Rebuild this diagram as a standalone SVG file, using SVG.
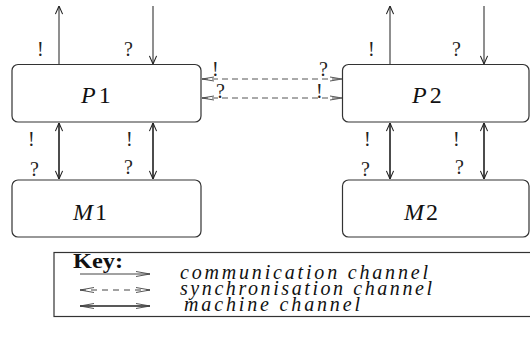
<svg xmlns="http://www.w3.org/2000/svg" width="530" height="345" viewBox="0 0 530 345">
  <defs>
    <!-- open arrowheads -->
    <marker id="head" viewBox="0 0 10 10" refX="10" refY="5" markerUnits="userSpaceOnUse" markerWidth="9" markerHeight="9" orient="auto-start-reverse">
      <path d="M1,1 L10,5 L1,9" fill="none" stroke="#222" stroke-width="1.2"/>
    </marker>
    <marker id="sync" viewBox="0 0 12 6" refX="12" refY="3" markerUnits="userSpaceOnUse" markerWidth="12" markerHeight="6" orient="auto-start-reverse">
      <path d="M0,1 L12,3 L0,5" fill="none" stroke="#444" stroke-width="0.9"/>
    </marker>
    <marker id="keyhead" viewBox="0 0 14 8" refX="14" refY="4" markerUnits="userSpaceOnUse" markerWidth="14" markerHeight="8" orient="auto-start-reverse">
      <path d="M0,1.5 L14,4 L0,6.5" fill="none" stroke="#444" stroke-width="0.9"/>
    </marker>
  </defs>
  <style>
    .box { fill: #fff; stroke: #333; stroke-width: 1.2; }
    .name { font-family: "Liberation Serif", "DejaVu Serif", serif; font-style: italic; font-size: 24px; fill: #111; }
    .mark { font-family: "Liberation Serif", "DejaVu Serif", serif; font-size: 20px; fill: #222; }
    .comm { stroke: #333; stroke-width: 1.1; fill: none; marker-end: url(#head); }
    .mach { stroke: #111; stroke-width: 1.5; fill: none; marker-start: url(#head); marker-end: url(#head); }
    .dash { stroke: #555; stroke-width: 1; fill: none; stroke-dasharray: 6 4; marker-start: url(#sync); marker-end: url(#sync); }
    .keytxt { font-family: "Liberation Serif", "DejaVu Serif", serif; font-style: italic; font-size: 20px; fill: #111; }
    .keyhd { font-family: "Liberation Serif", "DejaVu Serif", serif; font-weight: bold; font-size: 21px; fill: #111; }
  </style>

  <g id="P1">
    <rect class="box" x="12" y="64.5" width="189" height="57.5" rx="6"/>
    <text class="name" x="81" y="103">P<tspan dx="3" font-style="normal">1</tspan></text>
  </g>
  <g id="P2">
    <rect class="box" x="342.5" y="64.5" width="186.5" height="57.5" rx="6"/>
    <text class="name" x="412" y="103">P<tspan dx="3" font-style="normal">2</tspan></text>
  </g>
  <g id="M1">
    <rect class="box" x="12" y="180" width="189" height="57" rx="6"/>
    <text class="name" x="73" y="220">M<tspan dx="2" font-style="normal">1</tspan></text>
  </g>
  <g id="M2">
    <rect class="box" x="342.5" y="180" width="186.5" height="57" rx="6"/>
    <text class="name" x="404" y="220">M<tspan dx="2" font-style="normal">2</tspan></text>
  </g>

  <g id="connectors">
    <!-- external communication channels -->
    <line class="comm" x1="59" y1="64" x2="59" y2="6"/>
    <line class="comm" x1="153" y1="6" x2="153" y2="64"/>
    <line class="comm" x1="390" y1="64" x2="390" y2="6"/>
    <line class="comm" x1="484" y1="6" x2="484" y2="64"/>
    <!-- synchronisation channels between P1 and P2 -->
    <line class="dash" x1="202" y1="79" x2="342" y2="79"/>
    <line class="dash" x1="202" y1="98" x2="342" y2="98"/>
    <!-- machine channels -->
    <line class="mach" x1="59" y1="123" x2="59" y2="179"/>
    <line class="mach" x1="153" y1="123" x2="153" y2="179"/>
    <line class="mach" x1="390" y1="123" x2="390" y2="179"/>
    <line class="mach" x1="484" y1="123" x2="484" y2="179"/>
  </g>

  <g id="channel-marks">
    <text class="mark" x="37" y="56">!</text>
    <text class="mark" x="124" y="56">?</text>
    <text class="mark" x="368" y="56">!</text>
    <text class="mark" x="452" y="56">?</text>

    <text class="mark" x="212" y="76">!</text>
    <text class="mark" x="216" y="98">?</text>
    <text class="mark" x="319" y="76">?</text>
    <text class="mark" x="316" y="98">!</text>

    <text class="mark" x="28" y="146">!</text>
    <text class="mark" x="30" y="176">?</text>
    <text class="mark" x="126" y="146">!</text>
    <text class="mark" x="124" y="174">?</text>
    <text class="mark" x="364" y="146">!</text>
    <text class="mark" x="361" y="176">?</text>
    <text class="mark" x="453" y="146">!</text>
    <text class="mark" x="455" y="174">?</text>
  </g>

  <g id="key">
    <rect x="54" y="252.5" width="480" height="64" fill="none" stroke="#333" stroke-width="1.2"/>
    <text class="keyhd" x="73" y="268" textLength="50" lengthAdjust="spacingAndGlyphs">Key:</text>
    <line x1="80" y1="274" x2="150" y2="274" stroke="#444" stroke-width="1" marker-end="url(#keyhead)"/>
    <line x1="80" y1="290" x2="150" y2="290" stroke="#444" stroke-width="1" stroke-dasharray="6 5" marker-start="url(#keyhead)" marker-end="url(#keyhead)"/>
    <line x1="80" y1="306" x2="150" y2="306" stroke="#222" stroke-width="1.3" marker-start="url(#keyhead)" marker-end="url(#keyhead)"/>
    <text class="keytxt" x="180" y="279" textLength="248" lengthAdjust="spacing">communication channel</text>
    <text class="keytxt" x="180" y="295" textLength="252" lengthAdjust="spacing">synchronisation channel</text>
    <text class="keytxt" x="184" y="311" textLength="176" lengthAdjust="spacing">machine channel</text>
  </g>
</svg>
